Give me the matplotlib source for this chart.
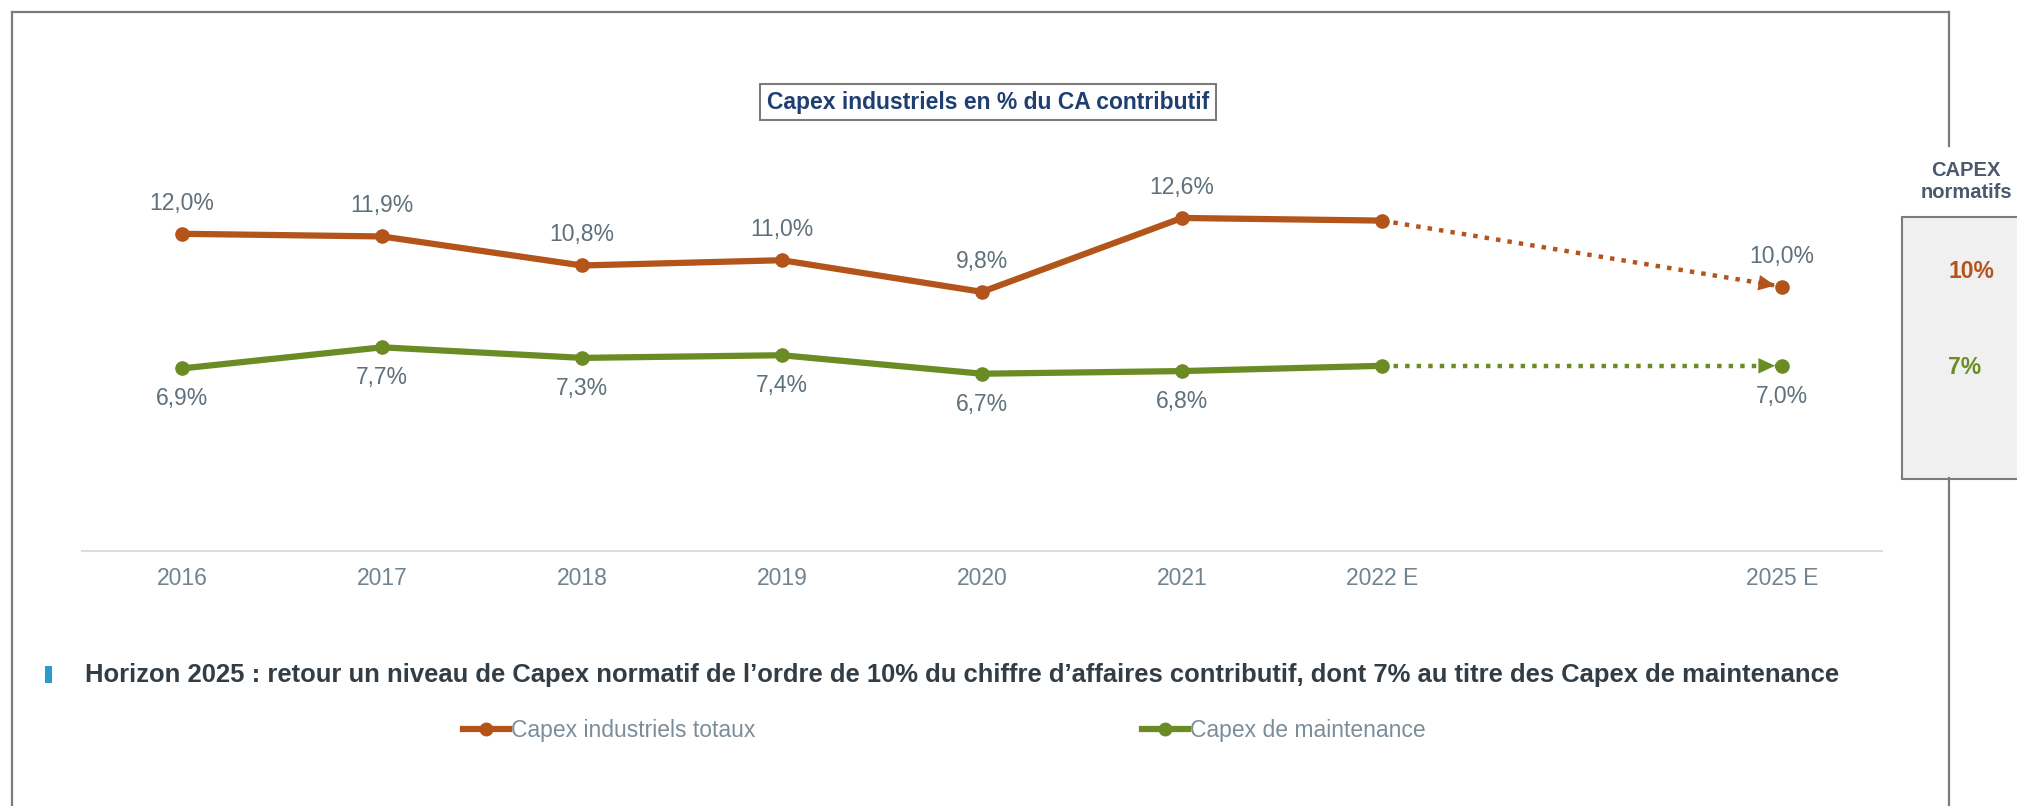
import numpy as np
import matplotlib
matplotlib.use("Agg")
import matplotlib.pyplot as plt
from matplotlib.lines import Line2D
from matplotlib.patches import Rectangle

plt.rcParams['font.family'] = ['Liberation Sans', 'DejaVu Sans']

# --- data ---
periods = ['2016', '2017', '2018', '2019', '2020', '2021', '2022 E', '', '2025 E']
capex_total = [12.0, 11.9, 10.8, 11.0, 9.8, 12.6, 12.5, np.nan, 10.0]
capex_maint = [6.9, 7.7, 7.3, 7.4, 6.7, 6.8, 7.0, np.nan, 7.0]
show_label = [True, True, True, True, True, True, False, False, True]
normatif_total = '10%'
normatif_maint = '7%'

title = 'Capex industriels en % du CA contributif'
subtitle = ("Horizon 2025 : retour un niveau de Capex normatif de l\u2019ordre de 10% du chiffre "
            "d\u2019affaires contributif, dont 7% au titre des Capex de maintenance")
legend_labels = ['Capex industriels totaux', 'Capex de maintenance']

ORANGE = '#b3541b'
GREEN = '#6b8c25'
LABEL = '#5f707b'
TICK = '#70838f'
FRAME = '#7c7c7c'

W, H = 2017, 806
fig = plt.figure(figsize=(W / 100, H / 100), dpi=100)


def fx(px):
    return px / W


def fy(py):
    return 1 - py / H


ax = fig.add_axes([fx(82), fy(550.6), fx(1882) - fx(82), 16 * 26.4 / H])
x = np.arange(len(periods))
ax.set_xlim(-0.5, len(periods) - 0.5)
ax.set_ylim(0, 16)

for vals, col, above in [(capex_total, ORANGE, True), (capex_maint, GREEN, False)]:
    vals = np.array(vals)
    ax.plot(x, vals, color=col, lw=4.5, marker='o', ms=9.5, zorder=4,
            solid_capstyle='round')
    # dotted projection from last actual to the target, with a filled head
    ok = np.where(~np.isnan(vals))[0]
    i0, i1 = ok[-2], ok[-1]
    ax.plot([x[i0], x[i1]], [vals[i0], vals[i1]], color=col, lw=3.2,
            ls=(0, (1, 1.6)), dash_capstyle='butt', zorder=3)
    p0 = ax.transData.transform((x[i0], vals[i0]))
    p1 = ax.transData.transform((x[i1], vals[i1]))
    d = (p1 - p0) / np.hypot(*(p1 - p0))
    ax.annotate('', xy=(x[i1], vals[i1]), xytext=tuple(-d * 30),
                textcoords='offset points',
                arrowprops=dict(arrowstyle='-|>,head_length=0.6,head_width=0.28',
                                color=col, lw=0, shrinkA=0, shrinkB=5,
                                mutation_scale=20),
                zorder=3.5)
    for xi, v, s in zip(x, vals, show_label):
        if s:
            ax.annotate(f'{v:.1f}%'.replace('.', ','), (xi, v),
                        xytext=(0, 22 if above else -22), textcoords='offset points',
                        ha='center', va='center', fontsize=16.5, color=LABEL)

ticks = [i for i, p in enumerate(periods) if p]
ax.set_xticks(ticks)
ax.set_xticklabels([periods[i] for i in ticks], fontsize=16.5, color=TICK)
ax.tick_params(axis='x', length=0, pad=12)
ax.set_yticks([])
for s in ['top', 'right', 'left']:
    ax.spines[s].set_visible(False)
ax.spines['bottom'].set_color('#d8dde2')
ax.spines['bottom'].set_linewidth(1.5)

# title box
fig.text(fx(988), fy(102), title, ha='center', va='center', fontsize=16.5,
         fontweight='bold', color='#1f3e72',
         bbox=dict(boxstyle='square,pad=0.3', fc='white', ec=FRAME, lw=1.5))

# outer frame
for xs, ys in [([12, 12], [12, 806]), ([12, 1949], [12, 12]),
               ([1949, 1949], [12, 146]), ([1949, 1949], [478, 806])]:
    fig.add_artist(Line2D([fx(v) for v in xs], [fy(v) for v in ys],
                          color=FRAME, lw=1.6))

# normative capex box
fig.add_artist(Rectangle((fx(1902), fy(479)), fx(2040) - fx(1902), (479 - 217) / H,
                         fc='#f0f0f0', ec=FRAME, lw=1.5))
fig.text(fx(1966), fy(181), 'CAPEX\nnormatifs', ha='center', va='center',
         fontsize=14.5, fontweight='bold', color='#4a5a6e', linespacing=1.2)
fig.text(fx(1948), fy(271), normatif_total, ha='left', va='center', fontsize=16.5,
         fontweight='bold', color=ORANGE)
fig.text(fx(1948), fy(368), normatif_maint, ha='left', va='center', fontsize=16.5,
         fontweight='bold', color=GREEN)

# subtitle with blue bullet, fitted to width
fig.add_artist(Rectangle((fx(45), fy(683)), fx(52) - fx(45), 17 / H,
                         fc='#2a9bd2', ec='none'))
sub = fig.text(fx(85), fy(675), subtitle, ha='left', va='center', fontsize=20,
               fontweight='bold', color='#333d45')
r = fig.canvas.get_renderer()
wpx = sub.get_window_extent(r).width
sub.set_fontsize(20 * 1755 / wpx)

# legend
for lab, col, x0 in [(legend_labels[0], ORANGE, 463), (legend_labels[1], GREEN, 1142)]:
    h = Line2D([], [], color=col, lw=4.5, marker='o', ms=9)
    fig.legend([h], [lab], loc='center left', bbox_to_anchor=(fx(x0), fy(731)),
               frameon=False, fontsize=16.5, labelcolor='#7b8d99',
               handlelength=2.0, handletextpad=0.1, borderpad=0, borderaxespad=0)

fig.savefig('out.png', dpi=100)
